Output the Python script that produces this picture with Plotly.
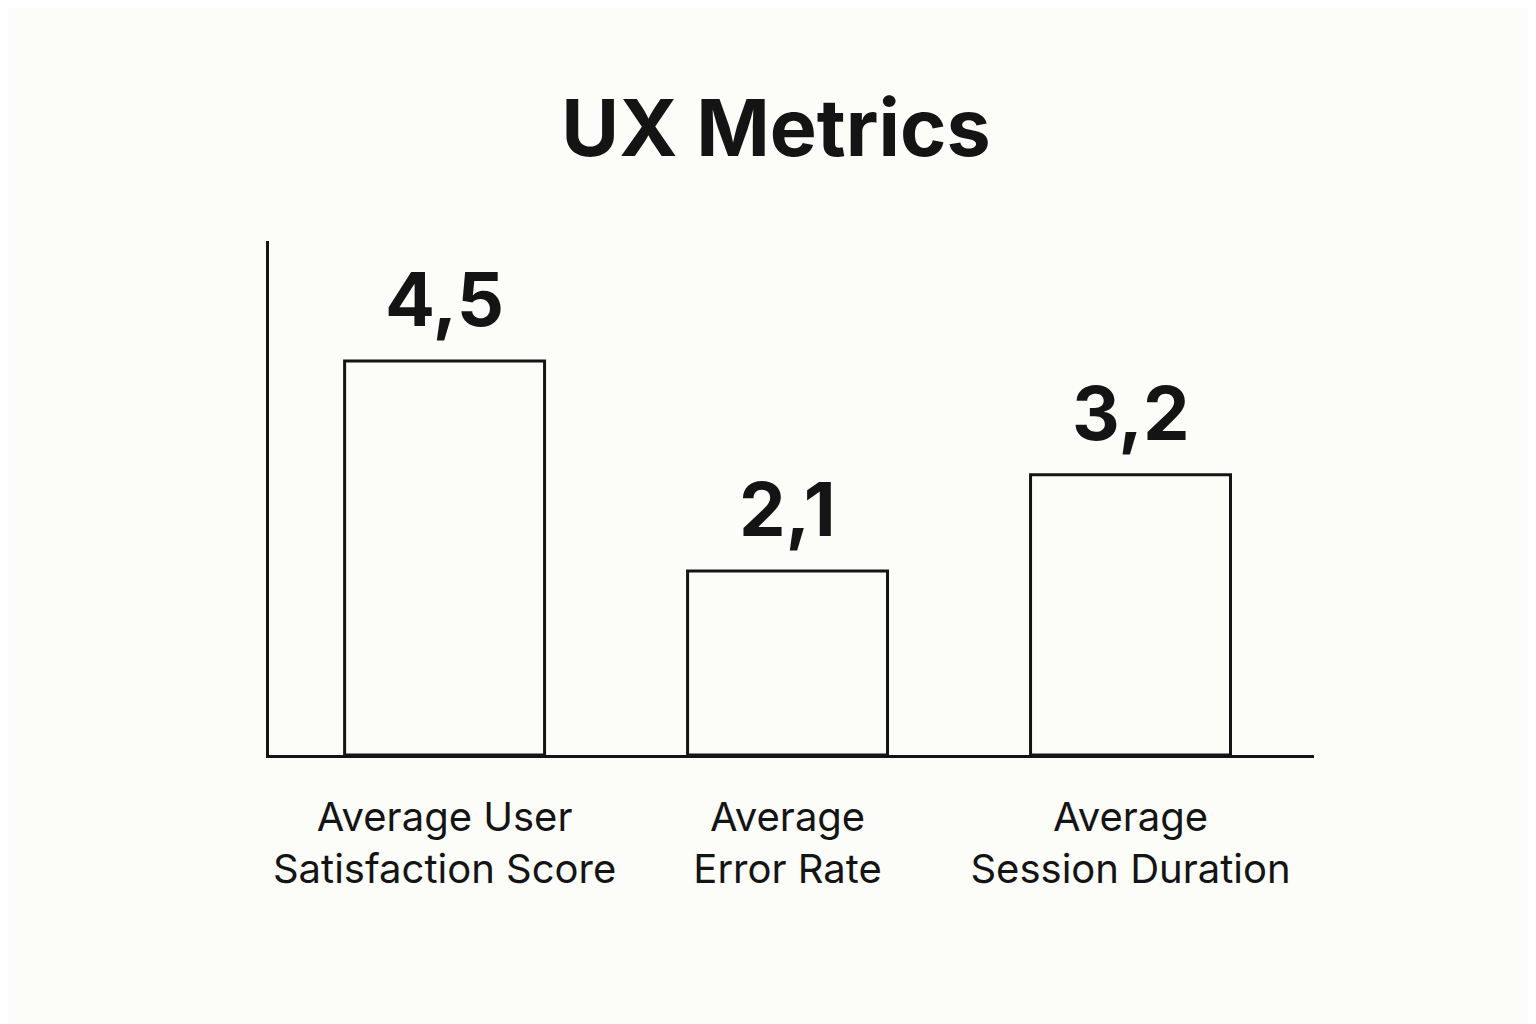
import plotly.graph_objects as go

# Chart data
metrics = ['Average User<br>Satisfaction Score', 'Average<br>Error Rate', 'Average<br>Session Duration']
values = [4.5, 2.1, 3.2]

ink = '#141414'
bg = '#fcfcf8'

fig = go.Figure(go.Bar(
    x=metrics,
    y=values,
    width=0.583,
    marker=dict(color=bg, line=dict(color=ink, width=3)),
    hoverinfo='skip',
))

# Value labels above the bars (decimal comma)
for m, v in zip(metrics, values):
    fig.add_annotation(
        x=m, y=v, text=f'<b>{v:.1f}</b>'.replace('.', ','),
        showarrow=False, yanchor='bottom', yshift=15,
        font=dict(family='Inter', size=74, color=ink),
    )

fig.update_layout(
    title=dict(text='<b>UX Metrics</b>', x=0.5, xanchor='center', y=0.882, yanchor='middle',
               font=dict(family='Inter', size=79, color=ink)),
    width=1536,
    height=1024,
    margin=dict(l=261, r=230, t=233, b=277),
    paper_bgcolor=bg,
    plot_bgcolor=bg,
    showlegend=False,
    font=dict(family='Inter', color=ink),
)
fig.update_xaxes(
    range=[-0.512, 2.535],
    showline=True, linecolor=ink, linewidth=3, showgrid=False,
    ticks='', ticklabelstandoff=25,
    tickfont=dict(family='Inter', size=40, color=ink),
)
fig.update_yaxes(
    range=[0, 5.87], showline=True, linecolor=ink, linewidth=3,
    showgrid=False, zeroline=False, showticklabels=False, ticks='',
)

fig.write_html('out.html')
